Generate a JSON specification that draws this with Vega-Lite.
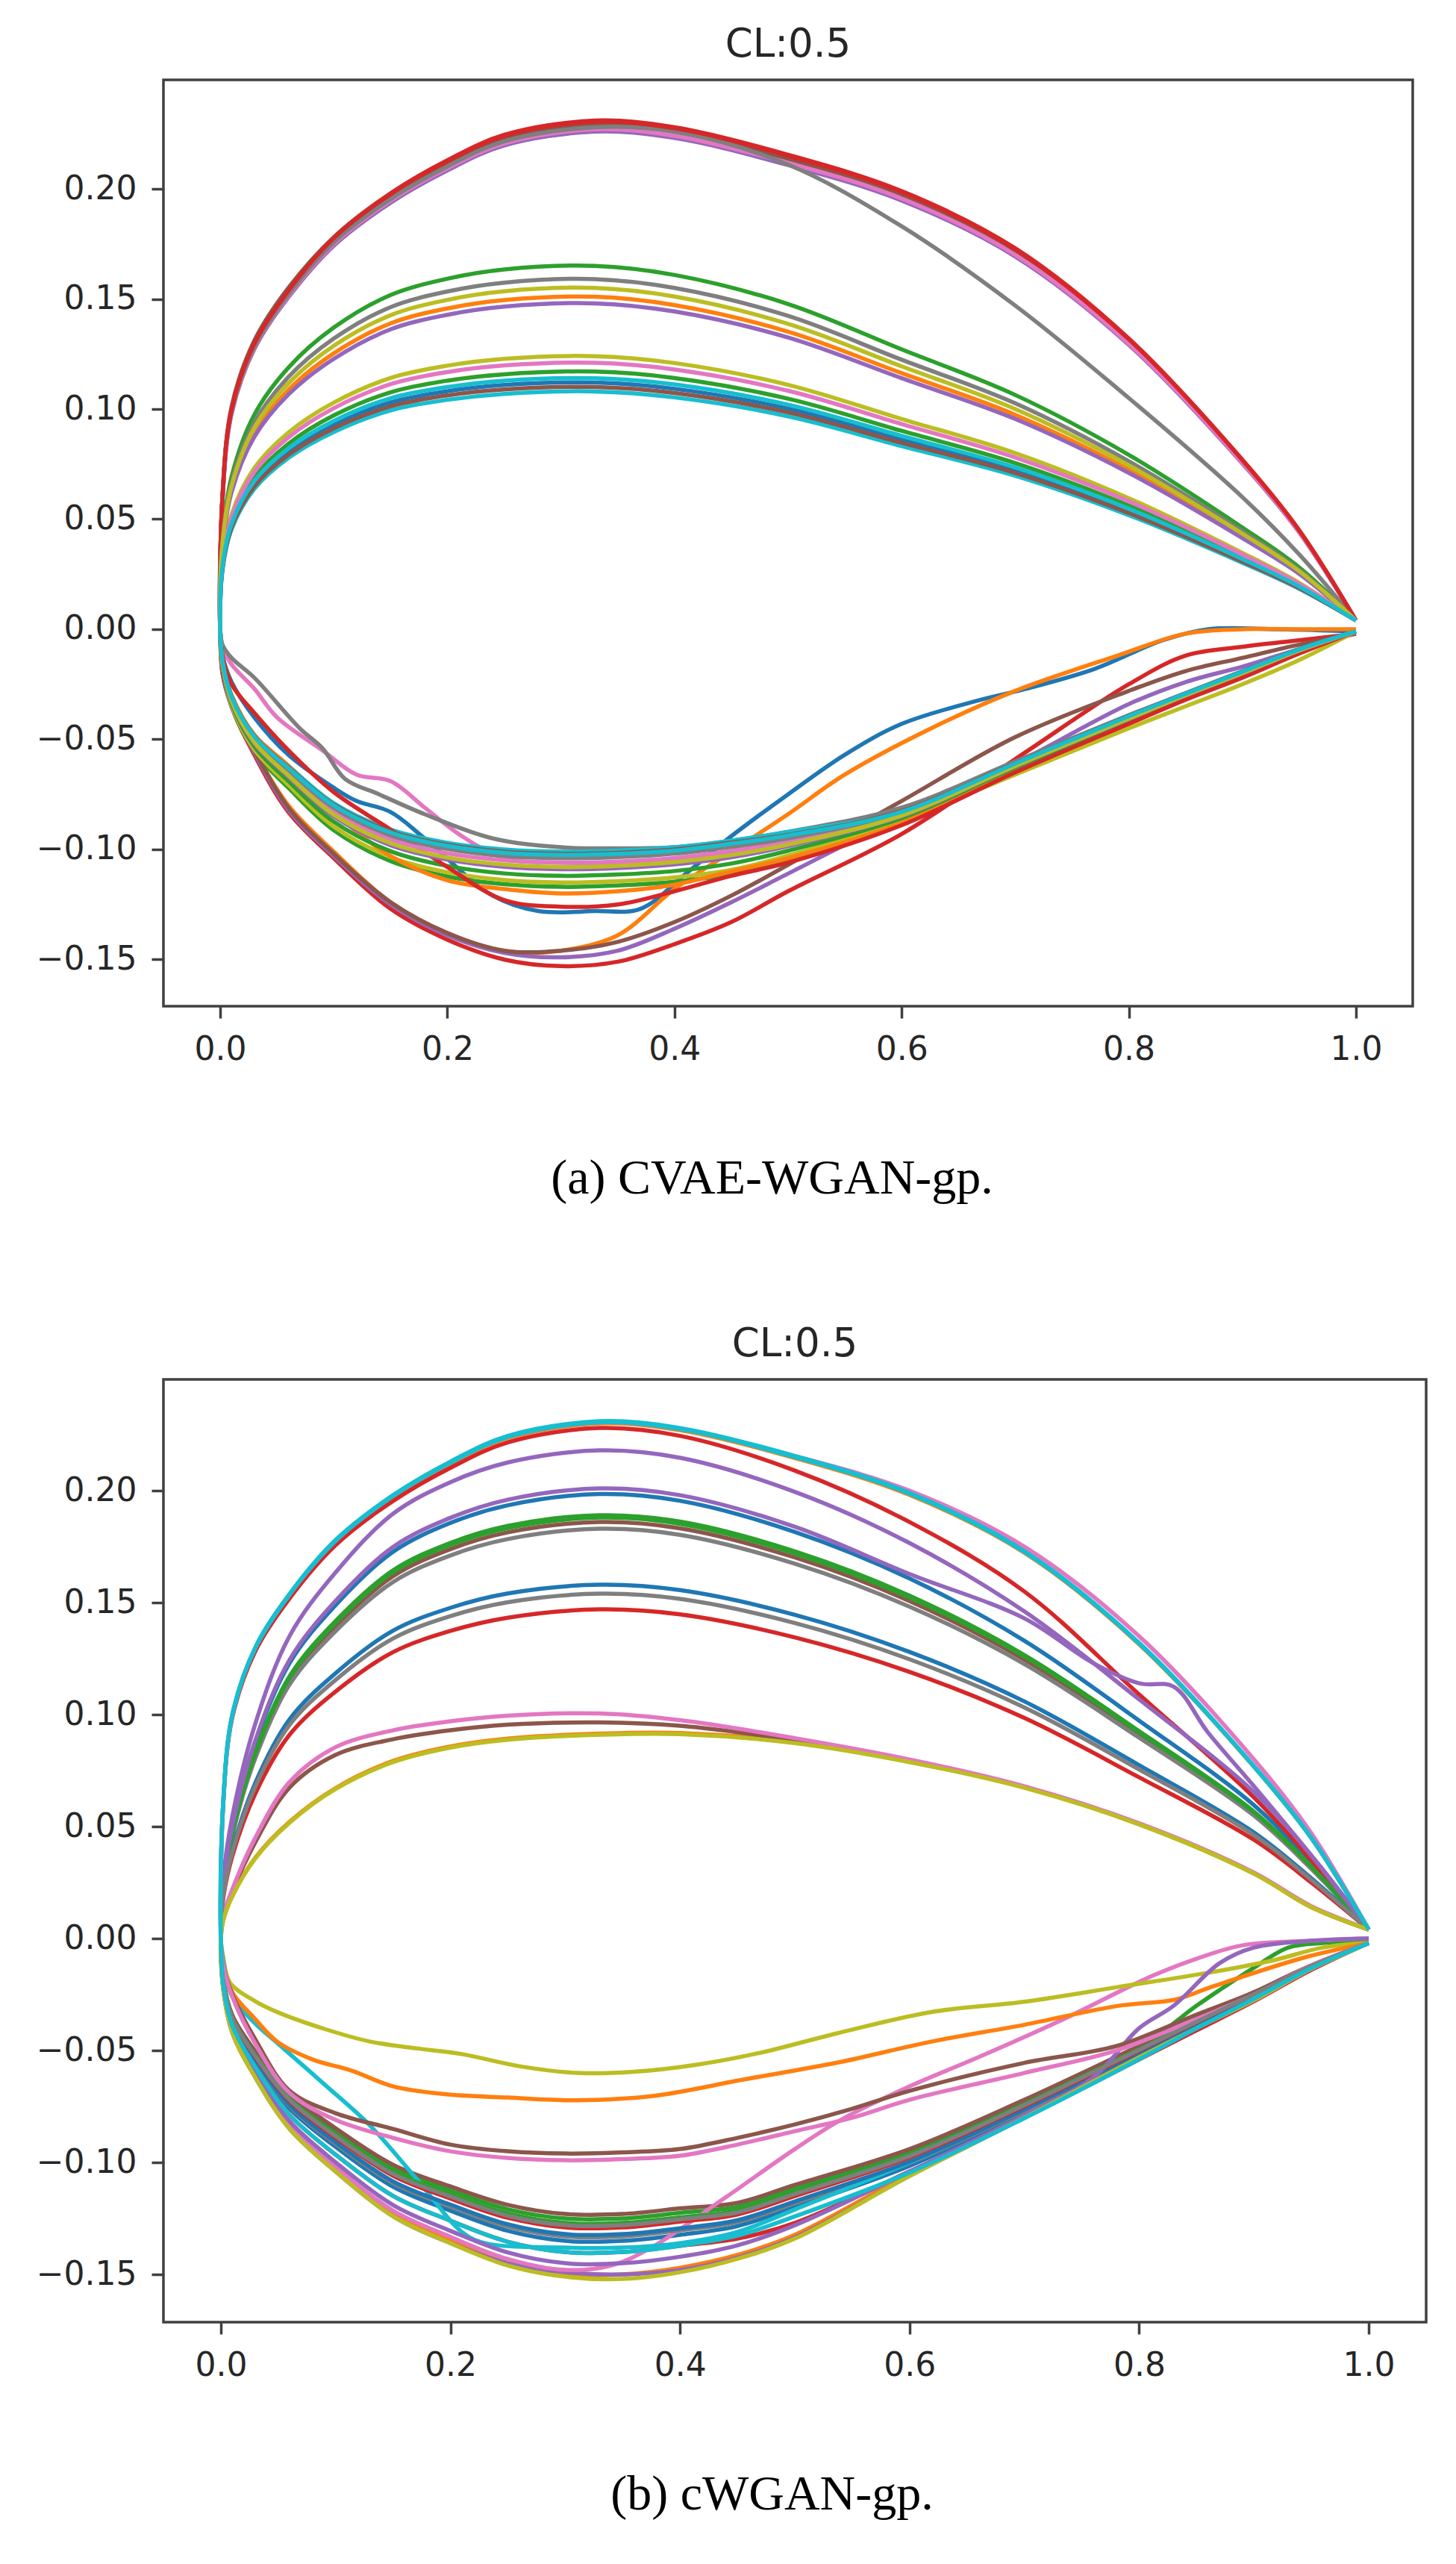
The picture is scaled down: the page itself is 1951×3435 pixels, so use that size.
{
"$schema":"https://vega.github.io/schema/vega-lite/v6.json",
"background":"white",
"padding":{"left":46,"right":43,"top":32,"bottom":5},
"config":{
"view":{"stroke":"#404040","strokeWidth":3.5},
"axis":{"domain":false,"grid":false,"tickColor":"#404040","tickWidth":3.5,"tickSize":16,"labelFont":"DejaVu Sans","labelFontSize":44,"labelColor":"#262626","labelPadding":20},
"title":{"font":"DejaVu Sans","fontSize":53,"fontWeight":"normal","color":"#262626","offset":20},
"concat":{"spacing":160},
"line":{"strokeWidth":5.5,"interpolate":"catmull-rom"}
},
"datasets":{
"a":[
{"c":0,"x":1,"y":0.004},{"c":0,"x":0.95,"y":0.0446},{"c":0,"x":0.9,"y":0.0763},{"c":0,"x":0.8,"y":0.1309},{"c":0,"x":0.7,"y":0.1715},{"c":0,"x":0.6,"y":0.1973},{"c":0,"x":0.5,"y":0.2136},{"c":0,"x":0.4,"y":0.226},{"c":0,"x":0.33,"y":0.229},{"c":0,"x":0.25,"y":0.2225},{"c":0,"x":0.2,"y":0.2111},{"c":0,"x":0.15,"y":0.1963},{"c":0,"x":0.1,"y":0.1765},{"c":0,"x":0.06,"y":0.1527},{"c":0,"x":0.03,"y":0.1289},{"c":0,"x":0.01,"y":0.0991},{"c":0,"x":0.002,"y":0.0595},{"c":0,"x":0,"y":0},
{"c":0,"x":0.002,"y":-0.012},{"c":0,"x":0.01,"y":-0.024},{"c":0,"x":0.03,"y":-0.04},{"c":0,"x":0.06,"y":-0.057},{"c":0,"x":0.1,"y":-0.072},{"c":0,"x":0.12,"y":-0.078},{"c":0,"x":0.15,"y":-0.083},{"c":0,"x":0.18,"y":-0.095},{"c":0,"x":0.24,"y":-0.121},{"c":0,"x":0.28,"y":-0.128},{"c":0,"x":0.33,"y":-0.128},{"c":0,"x":0.37,"y":-0.127},{"c":0,"x":0.41,"y":-0.111},{"c":0,"x":0.45,"y":-0.094},{"c":0,"x":0.5,"y":-0.075},{"c":0,"x":0.55,"y":-0.057},{"c":0,"x":0.6,"y":-0.043},{"c":0,"x":0.67,"y":-0.032},{"c":0,"x":0.71,"y":-0.027},{"c":0,"x":0.77,"y":-0.018},{"c":0,"x":0.83,"y":-0.005},{"c":0,"x":0.87,"y":0},{"c":0,"x":0.93,"y":0},{"c":0,"x":1,"y":-0.001},
{"c":1,"x":1,"y":0.004},{"c":1,"x":0.95,"y":0.0447},{"c":1,"x":0.9,"y":0.0765},{"c":1,"x":0.8,"y":0.1311},{"c":1,"x":0.7,"y":0.1719},{"c":1,"x":0.6,"y":0.1977},{"c":1,"x":0.5,"y":0.2141},{"c":1,"x":0.4,"y":0.2265},{"c":1,"x":0.33,"y":0.2295},{"c":1,"x":0.25,"y":0.223},{"c":1,"x":0.2,"y":0.2116},{"c":1,"x":0.15,"y":0.1967},{"c":1,"x":0.1,"y":0.1768},{"c":1,"x":0.06,"y":0.153},{"c":1,"x":0.03,"y":0.1292},{"c":1,"x":0.01,"y":0.0994},{"c":1,"x":0.002,"y":0.0596},{"c":1,"x":0,"y":0},
{"c":1,"x":0.002,"y":-0.018},{"c":1,"x":0.01,"y":-0.033},{"c":1,"x":0.03,"y":-0.055},{"c":1,"x":0.06,"y":-0.08},{"c":1,"x":0.1,"y":-0.101},{"c":1,"x":0.15,"y":-0.124},{"c":1,"x":0.2,"y":-0.138},{"c":1,"x":0.25,"y":-0.146},{"c":1,"x":0.3,"y":-0.146},{"c":1,"x":0.35,"y":-0.139},{"c":1,"x":0.4,"y":-0.118},{"c":1,"x":0.45,"y":-0.101},{"c":1,"x":0.5,"y":-0.084},{"c":1,"x":0.55,"y":-0.066},{"c":1,"x":0.63,"y":-0.044},{"c":1,"x":0.7,"y":-0.028},{"c":1,"x":0.79,"y":-0.012},{"c":1,"x":0.85,"y":-0.002},{"c":1,"x":0.9,"y":0},{"c":1,"x":0.95,"y":0},{"c":1,"x":1,"y":0},
{"c":2,"x":1,"y":0.004},{"c":2,"x":0.95,"y":0.0281},{"c":2,"x":0.9,"y":0.0462},{"c":2,"x":0.8,"y":0.0792},{"c":2,"x":0.7,"y":0.1064},{"c":2,"x":0.6,"y":0.1271},{"c":2,"x":0.5,"y":0.1477},{"c":2,"x":0.4,"y":0.1609},{"c":2,"x":0.33,"y":0.165},{"c":2,"x":0.25,"y":0.1634},{"c":2,"x":0.2,"y":0.1592},{"c":2,"x":0.15,"y":0.1518},{"c":2,"x":0.1,"y":0.137},{"c":2,"x":0.06,"y":0.1188},{"c":2,"x":0.03,"y":0.0974},{"c":2,"x":0.01,"y":0.0693},{"c":2,"x":0.002,"y":0.0413},{"c":2,"x":0,"y":0},
{"c":2,"x":0.002,"y":-0.0164},{"c":2,"x":0.01,"y":-0.0351},{"c":2,"x":0.03,"y":-0.0556},{"c":2,"x":0.06,"y":-0.072},{"c":2,"x":0.1,"y":-0.0913},{"c":2,"x":0.15,"y":-0.1053},{"c":2,"x":0.2,"y":-0.1123},{"c":2,"x":0.25,"y":-0.1158},{"c":2,"x":0.3,"y":-0.117},{"c":2,"x":0.35,"y":-0.1164},{"c":2,"x":0.4,"y":-0.1147},{"c":2,"x":0.45,"y":-0.1112},{"c":2,"x":0.5,"y":-0.1042},{"c":2,"x":0.6,"y":-0.0874},{"c":2,"x":0.7,"y":-0.0639},{"c":2,"x":0.8,"y":-0.0424},{"c":2,"x":0.85,"y":-0.031},{"c":2,"x":0.9,"y":-0.021},{"c":2,"x":0.95,"y":-0.0104},{"c":2,"x":1,"y":-0.001},
{"c":3,"x":1,"y":0.004},{"c":3,"x":0.95,"y":0.045},{"c":3,"x":0.9,"y":0.077},{"c":3,"x":0.8,"y":0.132},{"c":3,"x":0.7,"y":0.173},{"c":3,"x":0.6,"y":0.199},{"c":3,"x":0.5,"y":0.2155},{"c":3,"x":0.4,"y":0.228},{"c":3,"x":0.33,"y":0.231},{"c":3,"x":0.25,"y":0.2245},{"c":3,"x":0.2,"y":0.213},{"c":3,"x":0.15,"y":0.198},{"c":3,"x":0.1,"y":0.178},{"c":3,"x":0.06,"y":0.154},{"c":3,"x":0.03,"y":0.13},{"c":3,"x":0.01,"y":0.1},{"c":3,"x":0.002,"y":0.06},{"c":3,"x":0,"y":0},
{"c":3,"x":0.002,"y":-0.02},{"c":3,"x":0.01,"y":-0.035},{"c":3,"x":0.03,"y":-0.057},{"c":3,"x":0.06,"y":-0.083},{"c":3,"x":0.1,"y":-0.104},{"c":3,"x":0.15,"y":-0.127},{"c":3,"x":0.2,"y":-0.141},{"c":3,"x":0.25,"y":-0.15},{"c":3,"x":0.3,"y":-0.153},{"c":3,"x":0.35,"y":-0.151},{"c":3,"x":0.4,"y":-0.143},{"c":3,"x":0.45,"y":-0.133},{"c":3,"x":0.5,"y":-0.119},{"c":3,"x":0.6,"y":-0.093},{"c":3,"x":0.7,"y":-0.059},{"c":3,"x":0.8,"y":-0.025},{"c":3,"x":0.85,"y":-0.012},{"c":3,"x":0.9,"y":-0.008},{"c":3,"x":0.95,"y":-0.005},{"c":3,"x":1,"y":-0.002},
{"c":4,"x":1,"y":0.004},{"c":4,"x":0.95,"y":0.044},{"c":4,"x":0.9,"y":0.0753},{"c":4,"x":0.8,"y":0.1292},{"c":4,"x":0.7,"y":0.1693},{"c":4,"x":0.6,"y":0.1947},{"c":4,"x":0.5,"y":0.2108},{"c":4,"x":0.4,"y":0.2231},{"c":4,"x":0.33,"y":0.226},{"c":4,"x":0.25,"y":0.2197},{"c":4,"x":0.2,"y":0.2084},{"c":4,"x":0.15,"y":0.1937},{"c":4,"x":0.1,"y":0.1742},{"c":4,"x":0.06,"y":0.1507},{"c":4,"x":0.03,"y":0.1272},{"c":4,"x":0.01,"y":0.0978},{"c":4,"x":0.002,"y":0.0587},{"c":4,"x":0,"y":0},
{"c":4,"x":0.002,"y":-0.02},{"c":4,"x":0.01,"y":-0.035},{"c":4,"x":0.03,"y":-0.056},{"c":4,"x":0.06,"y":-0.082},{"c":4,"x":0.1,"y":-0.103},{"c":4,"x":0.15,"y":-0.125},{"c":4,"x":0.2,"y":-0.139},{"c":4,"x":0.25,"y":-0.147},{"c":4,"x":0.3,"y":-0.149},{"c":4,"x":0.35,"y":-0.146},{"c":4,"x":0.4,"y":-0.136},{"c":4,"x":0.45,"y":-0.124},{"c":4,"x":0.5,"y":-0.111},{"c":4,"x":0.6,"y":-0.085},{"c":4,"x":0.7,"y":-0.061},{"c":4,"x":0.8,"y":-0.034},{"c":4,"x":0.85,"y":-0.024},{"c":4,"x":0.9,"y":-0.017},{"c":4,"x":0.95,"y":-0.009},{"c":4,"x":1,"y":-0.002},
{"c":5,"x":1,"y":0.004},{"c":5,"x":0.95,"y":0.0446},{"c":5,"x":0.9,"y":0.0763},{"c":5,"x":0.8,"y":0.1309},{"c":5,"x":0.7,"y":0.1715},{"c":5,"x":0.6,"y":0.1973},{"c":5,"x":0.5,"y":0.2136},{"c":5,"x":0.4,"y":0.226},{"c":5,"x":0.33,"y":0.229},{"c":5,"x":0.25,"y":0.2225},{"c":5,"x":0.2,"y":0.2115},{"c":5,"x":0.15,"y":0.1975},{"c":5,"x":0.1,"y":0.178},{"c":5,"x":0.06,"y":0.155},{"c":5,"x":0.03,"y":0.131},{"c":5,"x":0.01,"y":0.101},{"c":5,"x":0.002,"y":0.061},{"c":5,"x":0,"y":0},
{"c":5,"x":0.002,"y":-0.019},{"c":5,"x":0.01,"y":-0.034},{"c":5,"x":0.03,"y":-0.055},{"c":5,"x":0.06,"y":-0.081},{"c":5,"x":0.1,"y":-0.102},{"c":5,"x":0.15,"y":-0.124},{"c":5,"x":0.2,"y":-0.138},{"c":5,"x":0.25,"y":-0.146},{"c":5,"x":0.3,"y":-0.146},{"c":5,"x":0.35,"y":-0.142},{"c":5,"x":0.4,"y":-0.133},{"c":5,"x":0.45,"y":-0.121},{"c":5,"x":0.5,"y":-0.107},{"c":5,"x":0.6,"y":-0.078},{"c":5,"x":0.7,"y":-0.049},{"c":5,"x":0.8,"y":-0.028},{"c":5,"x":0.85,"y":-0.019},{"c":5,"x":0.9,"y":-0.013},{"c":5,"x":0.95,"y":-0.007},{"c":5,"x":1,"y":-0.002},
{"c":6,"x":1,"y":0.004},{"c":6,"x":0.95,"y":0.0442},{"c":6,"x":0.9,"y":0.0757},{"c":6,"x":0.8,"y":0.1297},{"c":6,"x":0.7,"y":0.17},{"c":6,"x":0.6,"y":0.1956},{"c":6,"x":0.5,"y":0.2118},{"c":6,"x":0.4,"y":0.2241},{"c":6,"x":0.33,"y":0.227},{"c":6,"x":0.25,"y":0.2206},{"c":6,"x":0.2,"y":0.2093},{"c":6,"x":0.15,"y":0.1946},{"c":6,"x":0.1,"y":0.1749},{"c":6,"x":0.06,"y":0.1513},{"c":6,"x":0.03,"y":0.1278},{"c":6,"x":0.01,"y":0.0983},{"c":6,"x":0.002,"y":0.0587},{"c":6,"x":0,"y":0},
{"c":6,"x":0.002,"y":-0.008},{"c":6,"x":0.01,"y":-0.016},{"c":6,"x":0.03,"y":-0.027},{"c":6,"x":0.05,"y":-0.04},{"c":6,"x":0.09,"y":-0.055},{"c":6,"x":0.12,"y":-0.066},{"c":6,"x":0.15,"y":-0.069},{"c":6,"x":0.18,"y":-0.081},{"c":6,"x":0.21,"y":-0.093},{"c":6,"x":0.25,"y":-0.104},{"c":6,"x":0.3,"y":-0.106},{"c":6,"x":0.35,"y":-0.106},{"c":6,"x":0.4,"y":-0.105},{"c":6,"x":0.45,"y":-0.101},{"c":6,"x":0.5,"y":-0.096},{"c":6,"x":0.6,"y":-0.084},{"c":6,"x":0.7,"y":-0.062},{"c":6,"x":0.8,"y":-0.04},{"c":6,"x":0.85,"y":-0.03},{"c":6,"x":0.9,"y":-0.02},{"c":6,"x":0.95,"y":-0.01},{"c":6,"x":1,"y":-0.001},
{"c":7,"x":1,"y":0.004},{"c":7,"x":0.95,"y":0.034},{"c":7,"x":0.9,"y":0.06},{"c":7,"x":0.8,"y":0.105},{"c":7,"x":0.7,"y":0.147},{"c":7,"x":0.6,"y":0.183},{"c":7,"x":0.5,"y":0.211},{"c":7,"x":0.4,"y":0.226},{"c":7,"x":0.33,"y":0.228},{"c":7,"x":0.25,"y":0.2216},{"c":7,"x":0.2,"y":0.2102},{"c":7,"x":0.15,"y":0.1954},{"c":7,"x":0.1,"y":0.1757},{"c":7,"x":0.06,"y":0.152},{"c":7,"x":0.03,"y":0.1283},{"c":7,"x":0.01,"y":0.0987},{"c":7,"x":0.002,"y":0.0592},{"c":7,"x":0,"y":0},
{"c":7,"x":0.002,"y":-0.007},{"c":7,"x":0.01,"y":-0.013},{"c":7,"x":0.03,"y":-0.022},{"c":7,"x":0.07,"y":-0.045},{"c":7,"x":0.09,"y":-0.054},{"c":7,"x":0.11,"y":-0.068},{"c":7,"x":0.14,"y":-0.075},{"c":7,"x":0.18,"y":-0.084},{"c":7,"x":0.24,"y":-0.095},{"c":7,"x":0.3,"y":-0.099},{"c":7,"x":0.35,"y":-0.0995},{"c":7,"x":0.4,"y":-0.099},{"c":7,"x":0.45,"y":-0.096},{"c":7,"x":0.5,"y":-0.092},{"c":7,"x":0.6,"y":-0.081},{"c":7,"x":0.7,"y":-0.06},{"c":7,"x":0.8,"y":-0.039},{"c":7,"x":0.85,"y":-0.029},{"c":7,"x":0.9,"y":-0.019},{"c":7,"x":0.95,"y":-0.009},{"c":7,"x":1,"y":-0.001},
{"c":8,"x":1,"y":0.004},{"c":8,"x":0.95,"y":0.0211},{"c":8,"x":0.9,"y":0.0347},{"c":8,"x":0.8,"y":0.0595},{"c":8,"x":0.7,"y":0.08},{"c":8,"x":0.6,"y":0.0955},{"c":8,"x":0.5,"y":0.111},{"c":8,"x":0.4,"y":0.1209},{"c":8,"x":0.33,"y":0.124},{"c":8,"x":0.25,"y":0.1228},{"c":8,"x":0.2,"y":0.1197},{"c":8,"x":0.15,"y":0.1141},{"c":8,"x":0.1,"y":0.1029},{"c":8,"x":0.06,"y":0.0893},{"c":8,"x":0.03,"y":0.0732},{"c":8,"x":0.01,"y":0.0521},{"c":8,"x":0.002,"y":0.031},{"c":8,"x":0,"y":0},
{"c":8,"x":0.002,"y":-0.016},{"c":8,"x":0.01,"y":-0.0345},{"c":8,"x":0.03,"y":-0.0546},{"c":8,"x":0.06,"y":-0.0707},{"c":8,"x":0.1,"y":-0.0897},{"c":8,"x":0.15,"y":-0.1035},{"c":8,"x":0.2,"y":-0.1104},{"c":8,"x":0.25,"y":-0.1139},{"c":8,"x":0.3,"y":-0.115},{"c":8,"x":0.35,"y":-0.1144},{"c":8,"x":0.4,"y":-0.1127},{"c":8,"x":0.45,"y":-0.1093},{"c":8,"x":0.5,"y":-0.1028},{"c":8,"x":0.6,"y":-0.0868},{"c":8,"x":0.7,"y":-0.066},{"c":8,"x":0.8,"y":-0.045},{"c":8,"x":0.85,"y":-0.035},{"c":8,"x":0.9,"y":-0.025},{"c":8,"x":0.95,"y":-0.014},{"c":8,"x":1,"y":-0.001},
{"c":9,"x":1,"y":0.004},{"c":9,"x":0.95,"y":0.0184},{"c":9,"x":0.9,"y":0.0302},{"c":9,"x":0.8,"y":0.0518},{"c":9,"x":0.7,"y":0.0697},{"c":9,"x":0.6,"y":0.0832},{"c":9,"x":0.5,"y":0.0967},{"c":9,"x":0.4,"y":0.1053},{"c":9,"x":0.33,"y":0.108},{"c":9,"x":0.25,"y":0.1069},{"c":9,"x":0.2,"y":0.1042},{"c":9,"x":0.15,"y":0.0994},{"c":9,"x":0.1,"y":0.0896},{"c":9,"x":0.06,"y":0.0778},{"c":9,"x":0.03,"y":0.0637},{"c":9,"x":0.01,"y":0.0454},{"c":9,"x":0.002,"y":0.027},{"c":9,"x":0,"y":0},
{"c":9,"x":0.002,"y":-0.014},{"c":9,"x":0.01,"y":-0.03},{"c":9,"x":0.03,"y":-0.048},{"c":9,"x":0.06,"y":-0.062},{"c":9,"x":0.1,"y":-0.079},{"c":9,"x":0.15,"y":-0.091},{"c":9,"x":0.2,"y":-0.097},{"c":9,"x":0.25,"y":-0.1},{"c":9,"x":0.3,"y":-0.101},{"c":9,"x":0.35,"y":-0.1005},{"c":9,"x":0.4,"y":-0.099},{"c":9,"x":0.45,"y":-0.096},{"c":9,"x":0.5,"y":-0.092},{"c":9,"x":0.6,"y":-0.083},{"c":9,"x":0.7,"y":-0.0615},{"c":9,"x":0.8,"y":-0.04},{"c":9,"x":0.85,"y":-0.03},{"c":9,"x":0.9,"y":-0.02},{"c":9,"x":0.95,"y":-0.01},{"c":9,"x":1,"y":-0.001},
{"c":10,"x":1,"y":0.004},{"c":10,"x":0.95,"y":0.019},{"c":10,"x":0.9,"y":0.0314},{"c":10,"x":0.8,"y":0.0538},{"c":10,"x":0.7,"y":0.0722},{"c":10,"x":0.6,"y":0.0862},{"c":10,"x":0.5,"y":0.1002},{"c":10,"x":0.4,"y":0.1092},{"c":10,"x":0.33,"y":0.112},{"c":10,"x":0.25,"y":0.1109},{"c":10,"x":0.2,"y":0.1081},{"c":10,"x":0.15,"y":0.103},{"c":10,"x":0.1,"y":0.093},{"c":10,"x":0.06,"y":0.0806},{"c":10,"x":0.03,"y":0.0661},{"c":10,"x":0.01,"y":0.047},{"c":10,"x":0.002,"y":0.028},{"c":10,"x":0,"y":0},
{"c":10,"x":0.002,"y":-0.0144},{"c":10,"x":0.01,"y":-0.0309},{"c":10,"x":0.03,"y":-0.0489},{"c":10,"x":0.06,"y":-0.0633},{"c":10,"x":0.1,"y":-0.0803},{"c":10,"x":0.15,"y":-0.0927},{"c":10,"x":0.2,"y":-0.0989},{"c":10,"x":0.25,"y":-0.102},{"c":10,"x":0.3,"y":-0.103},{"c":10,"x":0.35,"y":-0.1025},{"c":10,"x":0.4,"y":-0.1009},{"c":10,"x":0.45,"y":-0.0979},{"c":10,"x":0.5,"y":-0.0942},{"c":10,"x":0.6,"y":-0.083},{"c":10,"x":0.7,"y":-0.0611},{"c":10,"x":0.8,"y":-0.0396},{"c":10,"x":0.85,"y":-0.0294},{"c":10,"x":0.9,"y":-0.0194},{"c":10,"x":0.95,"y":-0.0092},{"c":10,"x":1,"y":-0.001},
{"c":11,"x":1,"y":0.004},{"c":11,"x":0.95,"y":0.0257},{"c":11,"x":0.9,"y":0.0423},{"c":11,"x":0.8,"y":0.0725},{"c":11,"x":0.7,"y":0.0974},{"c":11,"x":0.6,"y":0.1163},{"c":11,"x":0.5,"y":0.1351},{"c":11,"x":0.4,"y":0.1472},{"c":11,"x":0.33,"y":0.151},{"c":11,"x":0.25,"y":0.1495},{"c":11,"x":0.2,"y":0.1457},{"c":11,"x":0.15,"y":0.1389},{"c":11,"x":0.1,"y":0.1253},{"c":11,"x":0.06,"y":0.1087},{"c":11,"x":0.03,"y":0.0891},{"c":11,"x":0.01,"y":0.0634},{"c":11,"x":0.002,"y":0.0378},{"c":11,"x":0,"y":0},
{"c":11,"x":0.002,"y":-0.017},{"c":11,"x":0.01,"y":-0.03},{"c":11,"x":0.03,"y":-0.048},{"c":11,"x":0.06,"y":-0.062},{"c":11,"x":0.1,"y":-0.083},{"c":11,"x":0.15,"y":-0.103},{"c":11,"x":0.2,"y":-0.114},{"c":11,"x":0.25,"y":-0.118},{"c":11,"x":0.3,"y":-0.12},{"c":11,"x":0.35,"y":-0.119},{"c":11,"x":0.4,"y":-0.116},{"c":11,"x":0.45,"y":-0.11},{"c":11,"x":0.5,"y":-0.104},{"c":11,"x":0.6,"y":-0.088},{"c":11,"x":0.7,"y":-0.064},{"c":11,"x":0.8,"y":-0.043},{"c":11,"x":0.85,"y":-0.031},{"c":11,"x":0.9,"y":-0.021},{"c":11,"x":0.95,"y":-0.011},{"c":11,"x":1,"y":-0.001},
{"c":12,"x":1,"y":0.004},{"c":12,"x":0.95,"y":0.0199},{"c":12,"x":0.9,"y":0.0328},{"c":12,"x":0.8,"y":0.0562},{"c":12,"x":0.7,"y":0.0755},{"c":12,"x":0.6,"y":0.0901},{"c":12,"x":0.5,"y":0.1047},{"c":12,"x":0.4,"y":0.1141},{"c":12,"x":0.33,"y":0.117},{"c":12,"x":0.25,"y":0.1158},{"c":12,"x":0.2,"y":0.1129},{"c":12,"x":0.15,"y":0.1076},{"c":12,"x":0.1,"y":0.0971},{"c":12,"x":0.06,"y":0.0842},{"c":12,"x":0.03,"y":0.069},{"c":12,"x":0.01,"y":0.0491},{"c":12,"x":0.002,"y":0.0293},{"c":12,"x":0,"y":0},
{"c":12,"x":0.002,"y":-0.0157},{"c":12,"x":0.01,"y":-0.0336},{"c":12,"x":0.03,"y":-0.0532},{"c":12,"x":0.06,"y":-0.0689},{"c":12,"x":0.1,"y":-0.0874},{"c":12,"x":0.15,"y":-0.1008},{"c":12,"x":0.2,"y":-0.1075},{"c":12,"x":0.25,"y":-0.1109},{"c":12,"x":0.3,"y":-0.112},{"c":12,"x":0.35,"y":-0.1114},{"c":12,"x":0.4,"y":-0.1098},{"c":12,"x":0.45,"y":-0.1064},{"c":12,"x":0.5,"y":-0.1006},{"c":12,"x":0.6,"y":-0.0858},{"c":12,"x":0.7,"y":-0.0629},{"c":12,"x":0.8,"y":-0.0414},{"c":12,"x":0.85,"y":-0.0304},{"c":12,"x":0.9,"y":-0.0204},{"c":12,"x":0.95,"y":-0.01},{"c":12,"x":1,"y":-0.001},
{"c":13,"x":1,"y":0.004},{"c":13,"x":0.95,"y":0.0449},{"c":13,"x":0.9,"y":0.0768},{"c":13,"x":0.8,"y":0.1317},{"c":13,"x":0.7,"y":0.1726},{"c":13,"x":0.6,"y":0.1986},{"c":13,"x":0.5,"y":0.215},{"c":13,"x":0.4,"y":0.2275},{"c":13,"x":0.33,"y":0.2305},{"c":13,"x":0.25,"y":0.224},{"c":13,"x":0.2,"y":0.2125},{"c":13,"x":0.15,"y":0.1976},{"c":13,"x":0.1,"y":0.1776},{"c":13,"x":0.06,"y":0.1537},{"c":13,"x":0.03,"y":0.1297},{"c":13,"x":0.01,"y":0.0998},{"c":13,"x":0.002,"y":0.0599},{"c":13,"x":0,"y":0},
{"c":13,"x":0.002,"y":-0.012},{"c":13,"x":0.01,"y":-0.025},{"c":13,"x":0.03,"y":-0.038},{"c":13,"x":0.06,"y":-0.055},{"c":13,"x":0.1,"y":-0.074},{"c":13,"x":0.15,"y":-0.091},{"c":13,"x":0.2,"y":-0.108},{"c":13,"x":0.25,"y":-0.123},{"c":13,"x":0.3,"y":-0.126},{"c":13,"x":0.35,"y":-0.125},{"c":13,"x":0.4,"y":-0.119},{"c":13,"x":0.45,"y":-0.112},{"c":13,"x":0.5,"y":-0.106},{"c":13,"x":0.6,"y":-0.089},{"c":13,"x":0.7,"y":-0.065},{"c":13,"x":0.8,"y":-0.043},{"c":13,"x":0.85,"y":-0.032},{"c":13,"x":0.9,"y":-0.022},{"c":13,"x":0.95,"y":-0.011},{"c":13,"x":1,"y":-0.001},
{"c":14,"x":1,"y":0.004},{"c":14,"x":0.95,"y":0.0252},{"c":14,"x":0.9,"y":0.0414},{"c":14,"x":0.8,"y":0.071},{"c":14,"x":0.7,"y":0.0955},{"c":14,"x":0.6,"y":0.114},{"c":14,"x":0.5,"y":0.1325},{"c":14,"x":0.4,"y":0.1443},{"c":14,"x":0.33,"y":0.148},{"c":14,"x":0.25,"y":0.1465},{"c":14,"x":0.2,"y":0.1428},{"c":14,"x":0.15,"y":0.1362},{"c":14,"x":0.1,"y":0.1228},{"c":14,"x":0.06,"y":0.1066},{"c":14,"x":0.03,"y":0.0873},{"c":14,"x":0.01,"y":0.0622},{"c":14,"x":0.002,"y":0.037},{"c":14,"x":0,"y":0},
{"c":14,"x":0.002,"y":-0.0153},{"c":14,"x":0.01,"y":-0.0327},{"c":14,"x":0.03,"y":-0.0518},{"c":14,"x":0.06,"y":-0.067},{"c":14,"x":0.1,"y":-0.085},{"c":14,"x":0.15,"y":-0.0981},{"c":14,"x":0.2,"y":-0.1046},{"c":14,"x":0.25,"y":-0.1079},{"c":14,"x":0.3,"y":-0.109},{"c":14,"x":0.35,"y":-0.1085},{"c":14,"x":0.4,"y":-0.1068},{"c":14,"x":0.45,"y":-0.1036},{"c":14,"x":0.5,"y":-0.0985},{"c":14,"x":0.6,"y":-0.0849},{"c":14,"x":0.7,"y":-0.0623},{"c":14,"x":0.8,"y":-0.0408},{"c":14,"x":0.85,"y":-0.0301},{"c":14,"x":0.9,"y":-0.0201},{"c":14,"x":0.95,"y":-0.0097},{"c":14,"x":1,"y":-0.001},
{"c":15,"x":1,"y":0.004},{"c":15,"x":0.95,"y":0.0187},{"c":15,"x":0.9,"y":0.0308},{"c":15,"x":0.8,"y":0.0528},{"c":15,"x":0.7,"y":0.071},{"c":15,"x":0.6,"y":0.0847},{"c":15,"x":0.5,"y":0.0985},{"c":15,"x":0.4,"y":0.1073},{"c":15,"x":0.33,"y":0.11},{"c":15,"x":0.25,"y":0.1089},{"c":15,"x":0.2,"y":0.1062},{"c":15,"x":0.15,"y":0.1012},{"c":15,"x":0.1,"y":0.0913},{"c":15,"x":0.06,"y":0.0792},{"c":15,"x":0.03,"y":0.0649},{"c":15,"x":0.01,"y":0.0462},{"c":15,"x":0.002,"y":0.0275},{"c":15,"x":0,"y":0},
{"c":15,"x":0.002,"y":-0.0143},{"c":15,"x":0.01,"y":-0.0306},{"c":15,"x":0.03,"y":-0.0485},{"c":15,"x":0.06,"y":-0.0627},{"c":15,"x":0.1,"y":-0.0796},{"c":15,"x":0.15,"y":-0.0918},{"c":15,"x":0.2,"y":-0.0979},{"c":15,"x":0.25,"y":-0.101},{"c":15,"x":0.3,"y":-0.102},{"c":15,"x":0.35,"y":-0.1015},{"c":15,"x":0.4,"y":-0.1},{"c":15,"x":0.45,"y":-0.0969},{"c":15,"x":0.5,"y":-0.0934},{"c":15,"x":0.6,"y":-0.0826},{"c":15,"x":0.7,"y":-0.0609},{"c":15,"x":0.8,"y":-0.0394},{"c":15,"x":0.85,"y":-0.0292},{"c":15,"x":0.9,"y":-0.0192},{"c":15,"x":0.95,"y":-0.0092},{"c":15,"x":1,"y":-0.001},
{"c":16,"x":1,"y":0.004},{"c":16,"x":0.95,"y":0.0206},{"c":16,"x":0.9,"y":0.0339},{"c":16,"x":0.8,"y":0.0581},{"c":16,"x":0.7,"y":0.078},{"c":16,"x":0.6,"y":0.0932},{"c":16,"x":0.5,"y":0.1083},{"c":16,"x":0.4,"y":0.118},{"c":16,"x":0.33,"y":0.121},{"c":16,"x":0.25,"y":0.1198},{"c":16,"x":0.2,"y":0.1168},{"c":16,"x":0.15,"y":0.1113},{"c":16,"x":0.1,"y":0.1004},{"c":16,"x":0.06,"y":0.0871},{"c":16,"x":0.03,"y":0.0714},{"c":16,"x":0.01,"y":0.0508},{"c":16,"x":0.002,"y":0.0303},{"c":16,"x":0,"y":0},
{"c":16,"x":0.002,"y":-0.0148},{"c":16,"x":0.01,"y":-0.0318},{"c":16,"x":0.03,"y":-0.0504},{"c":16,"x":0.06,"y":-0.0652},{"c":16,"x":0.1,"y":-0.0827},{"c":16,"x":0.15,"y":-0.0954},{"c":16,"x":0.2,"y":-0.1018},{"c":16,"x":0.25,"y":-0.1049},{"c":16,"x":0.3,"y":-0.106},{"c":16,"x":0.35,"y":-0.1055},{"c":16,"x":0.4,"y":-0.1039},{"c":16,"x":0.45,"y":-0.1007},{"c":16,"x":0.5,"y":-0.0963},{"c":16,"x":0.6,"y":-0.0839},{"c":16,"x":0.7,"y":-0.0617},{"c":16,"x":0.8,"y":-0.0402},{"c":16,"x":0.85,"y":-0.0297},{"c":16,"x":0.9,"y":-0.0197},{"c":16,"x":0.95,"y":-0.0095},{"c":16,"x":1,"y":-0.001},
{"c":17,"x":1,"y":0.004},{"c":17,"x":0.95,"y":0.027},{"c":17,"x":0.9,"y":0.0445},{"c":17,"x":0.8,"y":0.0763},{"c":17,"x":0.7,"y":0.1026},{"c":17,"x":0.6,"y":0.1224},{"c":17,"x":0.5,"y":0.1423},{"c":17,"x":0.4,"y":0.155},{"c":17,"x":0.33,"y":0.159},{"c":17,"x":0.25,"y":0.1574},{"c":17,"x":0.2,"y":0.1534},{"c":17,"x":0.15,"y":0.1463},{"c":17,"x":0.1,"y":0.132},{"c":17,"x":0.06,"y":0.1145},{"c":17,"x":0.03,"y":0.0938},{"c":17,"x":0.01,"y":0.0668},{"c":17,"x":0.002,"y":0.0398},{"c":17,"x":0,"y":0},
{"c":17,"x":0.002,"y":-0.0146},{"c":17,"x":0.01,"y":-0.0312},{"c":17,"x":0.03,"y":-0.0494},{"c":17,"x":0.06,"y":-0.064},{"c":17,"x":0.1,"y":-0.0811},{"c":17,"x":0.15,"y":-0.0936},{"c":17,"x":0.2,"y":-0.0998},{"c":17,"x":0.25,"y":-0.103},{"c":17,"x":0.3,"y":-0.104},{"c":17,"x":0.35,"y":-0.1035},{"c":17,"x":0.4,"y":-0.1019},{"c":17,"x":0.45,"y":-0.0988},{"c":17,"x":0.5,"y":-0.0949},{"c":17,"x":0.6,"y":-0.0833},{"c":17,"x":0.7,"y":-0.0613},{"c":17,"x":0.8,"y":-0.0398},{"c":17,"x":0.85,"y":-0.0295},{"c":17,"x":0.9,"y":-0.0195},{"c":17,"x":0.95,"y":-0.0093},{"c":17,"x":1,"y":-0.001},
{"c":18,"x":1,"y":0.004},{"c":18,"x":0.95,"y":0.0264},{"c":18,"x":0.9,"y":0.0434},{"c":18,"x":0.8,"y":0.0744},{"c":18,"x":0.7,"y":0.1},{"c":18,"x":0.6,"y":0.1194},{"c":18,"x":0.5,"y":0.1387},{"c":18,"x":0.4,"y":0.1511},{"c":18,"x":0.33,"y":0.155},{"c":18,"x":0.25,"y":0.1535},{"c":18,"x":0.2,"y":0.1496},{"c":18,"x":0.15,"y":0.1426},{"c":18,"x":0.1,"y":0.1287},{"c":18,"x":0.06,"y":0.1116},{"c":18,"x":0.03,"y":0.0915},{"c":18,"x":0.01,"y":0.0651},{"c":18,"x":0.002,"y":0.0388},{"c":18,"x":0,"y":0},
{"c":18,"x":0.002,"y":-0.0151},{"c":18,"x":0.01,"y":-0.0324},{"c":18,"x":0.03,"y":-0.0513},{"c":18,"x":0.06,"y":-0.0664},{"c":18,"x":0.1,"y":-0.0842},{"c":18,"x":0.15,"y":-0.0972},{"c":18,"x":0.2,"y":-0.1037},{"c":18,"x":0.25,"y":-0.1069},{"c":18,"x":0.3,"y":-0.108},{"c":18,"x":0.35,"y":-0.1075},{"c":18,"x":0.4,"y":-0.1058},{"c":18,"x":0.45,"y":-0.1026},{"c":18,"x":0.5,"y":-0.0978},{"c":18,"x":0.6,"y":-0.0846},{"c":18,"x":0.7,"y":-0.0621},{"c":18,"x":0.8,"y":-0.0406},{"c":18,"x":0.85,"y":-0.03},{"c":18,"x":0.9,"y":-0.02},{"c":18,"x":0.95,"y":-0.0096},{"c":18,"x":1,"y":-0.001},
{"c":19,"x":1,"y":0.004},{"c":19,"x":0.95,"y":0.0194},{"c":19,"x":0.9,"y":0.0319},{"c":19,"x":0.8,"y":0.0547},{"c":19,"x":0.7,"y":0.0735},{"c":19,"x":0.6,"y":0.0878},{"c":19,"x":0.5,"y":0.102},{"c":19,"x":0.4,"y":0.1112},{"c":19,"x":0.33,"y":0.114},{"c":19,"x":0.25,"y":0.1129},{"c":19,"x":0.2,"y":0.11},{"c":19,"x":0.15,"y":0.1049},{"c":19,"x":0.1,"y":0.0946},{"c":19,"x":0.06,"y":0.0821},{"c":19,"x":0.03,"y":0.0673},{"c":19,"x":0.01,"y":0.0479},{"c":19,"x":0.002,"y":0.0285},{"c":19,"x":0,"y":0},
{"c":19,"x":0.002,"y":-0.0144},{"c":19,"x":0.01,"y":-0.0308},{"c":19,"x":0.03,"y":-0.0487},{"c":19,"x":0.06,"y":-0.063},{"c":19,"x":0.1,"y":-0.08},{"c":19,"x":0.15,"y":-0.0923},{"c":19,"x":0.2,"y":-0.0984},{"c":19,"x":0.25,"y":-0.1015},{"c":19,"x":0.3,"y":-0.1025},{"c":19,"x":0.35,"y":-0.102},{"c":19,"x":0.4,"y":-0.1005},{"c":19,"x":0.45,"y":-0.0974},{"c":19,"x":0.5,"y":-0.0937},{"c":19,"x":0.6,"y":-0.0829},{"c":19,"x":0.7,"y":-0.061},{"c":19,"x":0.8,"y":-0.0395},{"c":19,"x":0.85,"y":-0.0293},{"c":19,"x":0.9,"y":-0.0193},{"c":19,"x":0.95,"y":-0.0092},{"c":19,"x":1,"y":-0.001}
],
"b":[
{"c":0,"x":1,"y":0.004},{"c":0,"x":0.95,"y":0.0337},{"c":0,"x":0.9,"y":0.0596},{"c":0,"x":0.8,"y":0.0973},{"c":0,"x":0.7,"y":0.133},{"c":0,"x":0.6,"y":0.1608},{"c":0,"x":0.5,"y":0.1816},{"c":0,"x":0.4,"y":0.1955},{"c":0,"x":0.33,"y":0.1985},{"c":0,"x":0.25,"y":0.1935},{"c":0,"x":0.2,"y":0.1856},{"c":0,"x":0.15,"y":0.1727},{"c":0,"x":0.1,"y":0.1489},{"c":0,"x":0.06,"y":0.1231},{"c":0,"x":0.03,"y":0.0873},{"c":0,"x":0.01,"y":0.0496},{"c":0,"x":0.002,"y":0.0238},{"c":0,"x":0,"y":0},
{"c":0,"x":0.002,"y":-0.0197},{"c":0,"x":0.01,"y":-0.0375},{"c":0,"x":0.03,"y":-0.0554},{"c":0,"x":0.06,"y":-0.076},{"c":0,"x":0.1,"y":-0.093},{"c":0,"x":0.15,"y":-0.1108},{"c":0,"x":0.2,"y":-0.1215},{"c":0,"x":0.25,"y":-0.1305},{"c":0,"x":0.3,"y":-0.135},{"c":0,"x":0.35,"y":-0.135},{"c":0,"x":0.4,"y":-0.1323},{"c":0,"x":0.45,"y":-0.1284},{"c":0,"x":0.5,"y":-0.1199},{"c":0,"x":0.6,"y":-0.1015},{"c":0,"x":0.7,"y":-0.0778},{"c":0,"x":0.8,"y":-0.0521},{"c":0,"x":0.85,"y":-0.0389},{"c":0,"x":0.9,"y":-0.0261},{"c":0,"x":0.95,"y":-0.0128},{"c":0,"x":1,"y":-0.002},
{"c":1,"x":1,"y":0.004},{"c":1,"x":0.95,"y":0.0448},{"c":1,"x":0.9,"y":0.0767},{"c":1,"x":0.8,"y":0.1314},{"c":1,"x":0.7,"y":0.1723},{"c":1,"x":0.6,"y":0.1981},{"c":1,"x":0.5,"y":0.2146},{"c":1,"x":0.4,"y":0.227},{"c":1,"x":0.33,"y":0.23},{"c":1,"x":0.25,"y":0.2235},{"c":1,"x":0.2,"y":0.2121},{"c":1,"x":0.15,"y":0.1971},{"c":1,"x":0.1,"y":0.1772},{"c":1,"x":0.06,"y":0.1533},{"c":1,"x":0.03,"y":0.1294},{"c":1,"x":0.01,"y":0.0996},{"c":1,"x":0.002,"y":0.0597},{"c":1,"x":0,"y":0},
{"c":1,"x":0.002,"y":-0.0219},{"c":1,"x":0.01,"y":-0.0417},{"c":1,"x":0.03,"y":-0.0615},{"c":1,"x":0.06,"y":-0.0845},{"c":1,"x":0.1,"y":-0.1034},{"c":1,"x":0.15,"y":-0.1232},{"c":1,"x":0.2,"y":-0.135},{"c":1,"x":0.25,"y":-0.145},{"c":1,"x":0.3,"y":-0.15},{"c":1,"x":0.35,"y":-0.15},{"c":1,"x":0.4,"y":-0.147},{"c":1,"x":0.45,"y":-0.1413},{"c":1,"x":0.5,"y":-0.1323},{"c":1,"x":0.6,"y":-0.105},{"c":1,"x":0.7,"y":-0.079},{"c":1,"x":0.8,"y":-0.052},{"c":1,"x":0.85,"y":-0.039},{"c":1,"x":0.9,"y":-0.0275},{"c":1,"x":0.95,"y":-0.0135},{"c":1,"x":1,"y":-0.002},
{"c":2,"x":1,"y":0.004},{"c":2,"x":0.95,"y":0.0321},{"c":2,"x":0.9,"y":0.0567},{"c":2,"x":0.8,"y":0.0926},{"c":2,"x":0.7,"y":0.1266},{"c":2,"x":0.6,"y":0.1531},{"c":2,"x":0.5,"y":0.1729},{"c":2,"x":0.4,"y":0.1862},{"c":2,"x":0.33,"y":0.189},{"c":2,"x":0.25,"y":0.1843},{"c":2,"x":0.2,"y":0.1767},{"c":2,"x":0.15,"y":0.1644},{"c":2,"x":0.1,"y":0.1418},{"c":2,"x":0.06,"y":0.1172},{"c":2,"x":0.03,"y":0.0832},{"c":2,"x":0.01,"y":0.0473},{"c":2,"x":0.002,"y":0.0227},{"c":2,"x":0,"y":0},
{"c":2,"x":0.002,"y":-0.0183},{"c":2,"x":0.01,"y":-0.0348},{"c":2,"x":0.03,"y":-0.0513},{"c":2,"x":0.06,"y":-0.0704},{"c":2,"x":0.1,"y":-0.0861},{"c":2,"x":0.15,"y":-0.1026},{"c":2,"x":0.2,"y":-0.1125},{"c":2,"x":0.25,"y":-0.1209},{"c":2,"x":0.3,"y":-0.125},{"c":2,"x":0.35,"y":-0.125},{"c":2,"x":0.4,"y":-0.1225},{"c":2,"x":0.45,"y":-0.1198},{"c":2,"x":0.5,"y":-0.1117},{"c":2,"x":0.6,"y":-0.0953},{"c":2,"x":0.7,"y":-0.073},{"c":2,"x":0.8,"y":-0.0487},{"c":2,"x":0.85,"y":-0.03},{"c":2,"x":0.87,"y":-0.023},{"c":2,"x":0.9,"y":-0.013},{"c":2,"x":0.93,"y":-0.004},{"c":2,"x":0.96,"y":-0.002},{"c":2,"x":1,"y":-0.001},
{"c":3,"x":1,"y":0.004},{"c":3,"x":0.95,"y":0.035},{"c":3,"x":0.9,"y":0.063},{"c":3,"x":0.8,"y":0.109},{"c":3,"x":0.7,"y":0.155},{"c":3,"x":0.6,"y":0.186},{"c":3,"x":0.5,"y":0.209},{"c":3,"x":0.4,"y":0.2245},{"c":3,"x":0.33,"y":0.228},{"c":3,"x":0.25,"y":0.2216},{"c":3,"x":0.2,"y":0.2102},{"c":3,"x":0.15,"y":0.1954},{"c":3,"x":0.1,"y":0.1757},{"c":3,"x":0.06,"y":0.152},{"c":3,"x":0.03,"y":0.1283},{"c":3,"x":0.01,"y":0.0987},{"c":3,"x":0.002,"y":0.0592},{"c":3,"x":0,"y":0},
{"c":3,"x":0.002,"y":-0.0204},{"c":3,"x":0.01,"y":-0.0389},{"c":3,"x":0.03,"y":-0.0574},{"c":3,"x":0.06,"y":-0.0788},{"c":3,"x":0.1,"y":-0.0965},{"c":3,"x":0.15,"y":-0.1149},{"c":3,"x":0.2,"y":-0.126},{"c":3,"x":0.25,"y":-0.1354},{"c":3,"x":0.3,"y":-0.14},{"c":3,"x":0.35,"y":-0.14},{"c":3,"x":0.4,"y":-0.1372},{"c":3,"x":0.45,"y":-0.134},{"c":3,"x":0.5,"y":-0.127},{"c":3,"x":0.6,"y":-0.104},{"c":3,"x":0.7,"y":-0.08},{"c":3,"x":0.8,"y":-0.054},{"c":3,"x":0.85,"y":-0.041},{"c":3,"x":0.9,"y":-0.028},{"c":3,"x":0.95,"y":-0.014},{"c":3,"x":1,"y":-0.002},
{"c":4,"x":1,"y":0.004},{"c":4,"x":0.95,"y":0.0371},{"c":4,"x":0.9,"y":0.0654},{"c":4,"x":0.8,"y":0.1068},{"c":4,"x":0.7,"y":0.1461},{"c":4,"x":0.6,"y":0.1766},{"c":4,"x":0.5,"y":0.1995},{"c":4,"x":0.4,"y":0.2147},{"c":4,"x":0.33,"y":0.218},{"c":4,"x":0.25,"y":0.2126},{"c":4,"x":0.2,"y":0.2038},{"c":4,"x":0.15,"y":0.1897},{"c":4,"x":0.1,"y":0.1635},{"c":4,"x":0.06,"y":0.1352},{"c":4,"x":0.03,"y":0.0959},{"c":4,"x":0.01,"y":0.0545},{"c":4,"x":0.002,"y":0.0262},{"c":4,"x":0,"y":0},
{"c":4,"x":0.002,"y":-0.022},{"c":4,"x":0.01,"y":-0.042},{"c":4,"x":0.03,"y":-0.062},{"c":4,"x":0.06,"y":-0.085},{"c":4,"x":0.1,"y":-0.104},{"c":4,"x":0.15,"y":-0.124},{"c":4,"x":0.2,"y":-0.136},{"c":4,"x":0.25,"y":-0.145},{"c":4,"x":0.3,"y":-0.149},{"c":4,"x":0.35,"y":-0.15},{"c":4,"x":0.4,"y":-0.148},{"c":4,"x":0.45,"y":-0.1425},{"c":4,"x":0.5,"y":-0.1335},{"c":4,"x":0.6,"y":-0.106},{"c":4,"x":0.7,"y":-0.08},{"c":4,"x":0.8,"y":-0.053},{"c":4,"x":0.85,"y":-0.04},{"c":4,"x":0.9,"y":-0.0275},{"c":4,"x":0.95,"y":-0.0135},{"c":4,"x":1,"y":-0.002},
{"c":5,"x":1,"y":0.004},{"c":5,"x":0.95,"y":0.0316},{"c":5,"x":0.9,"y":0.0558},{"c":5,"x":0.8,"y":0.0911},{"c":5,"x":0.7,"y":0.1246},{"c":5,"x":0.6,"y":0.1507},{"c":5,"x":0.5,"y":0.1702},{"c":5,"x":0.4,"y":0.1832},{"c":5,"x":0.33,"y":0.186},{"c":5,"x":0.25,"y":0.1814},{"c":5,"x":0.2,"y":0.1739},{"c":5,"x":0.15,"y":0.1618},{"c":5,"x":0.1,"y":0.1395},{"c":5,"x":0.06,"y":0.1153},{"c":5,"x":0.03,"y":0.0818},{"c":5,"x":0.01,"y":0.0465},{"c":5,"x":0.002,"y":0.0223},{"c":5,"x":0,"y":0},
{"c":5,"x":0.002,"y":-0.018},{"c":5,"x":0.01,"y":-0.0342},{"c":5,"x":0.03,"y":-0.0504},{"c":5,"x":0.06,"y":-0.0692},{"c":5,"x":0.1,"y":-0.0847},{"c":5,"x":0.15,"y":-0.101},{"c":5,"x":0.2,"y":-0.1107},{"c":5,"x":0.25,"y":-0.1189},{"c":5,"x":0.3,"y":-0.123},{"c":5,"x":0.35,"y":-0.123},{"c":5,"x":0.4,"y":-0.1205},{"c":5,"x":0.45,"y":-0.118},{"c":5,"x":0.5,"y":-0.11},{"c":5,"x":0.6,"y":-0.094},{"c":5,"x":0.7,"y":-0.072},{"c":5,"x":0.8,"y":-0.048},{"c":5,"x":0.85,"y":-0.036},{"c":5,"x":0.9,"y":-0.024},{"c":5,"x":0.95,"y":-0.012},{"c":5,"x":1,"y":-0.002},
{"c":6,"x":1,"y":0.004},{"c":6,"x":0.95,"y":0.047},{"c":6,"x":0.9,"y":0.08},{"c":6,"x":0.8,"y":0.135},{"c":6,"x":0.7,"y":0.175},{"c":6,"x":0.6,"y":0.2},{"c":6,"x":0.5,"y":0.2155},{"c":6,"x":0.4,"y":0.2275},{"c":6,"x":0.33,"y":0.2305},{"c":6,"x":0.25,"y":0.224},{"c":6,"x":0.2,"y":0.2125},{"c":6,"x":0.15,"y":0.1976},{"c":6,"x":0.1,"y":0.1776},{"c":6,"x":0.06,"y":0.1537},{"c":6,"x":0.03,"y":0.1297},{"c":6,"x":0.01,"y":0.0998},{"c":6,"x":0.002,"y":0.0599},{"c":6,"x":0,"y":0},
{"c":6,"x":0.002,"y":-0.0216},{"c":6,"x":0.01,"y":-0.0411},{"c":6,"x":0.03,"y":-0.0607},{"c":6,"x":0.06,"y":-0.0833},{"c":6,"x":0.1,"y":-0.102},{"c":6,"x":0.15,"y":-0.1215},{"c":6,"x":0.2,"y":-0.1332},{"c":6,"x":0.25,"y":-0.1431},{"c":6,"x":0.3,"y":-0.148},{"c":6,"x":0.34,"y":-0.146},{"c":6,"x":0.375,"y":-0.138},{"c":6,"x":0.44,"y":-0.1155},{"c":6,"x":0.5,"y":-0.094},{"c":6,"x":0.54,"y":-0.081},{"c":6,"x":0.6,"y":-0.066},{"c":6,"x":0.66,"y":-0.053},{"c":6,"x":0.73,"y":-0.037},{"c":6,"x":0.81,"y":-0.017},{"c":6,"x":0.85,"y":-0.009},{"c":6,"x":0.89,"y":-0.003},{"c":6,"x":0.95,"y":-0.001},{"c":6,"x":1,"y":0},
{"c":7,"x":1,"y":0.004},{"c":7,"x":0.95,"y":0.0311},{"c":7,"x":0.9,"y":0.0549},{"c":7,"x":0.8,"y":0.0897},{"c":7,"x":0.7,"y":0.1226},{"c":7,"x":0.6,"y":0.1482},{"c":7,"x":0.5,"y":0.1674},{"c":7,"x":0.4,"y":0.1803},{"c":7,"x":0.33,"y":0.183},{"c":7,"x":0.25,"y":0.1784},{"c":7,"x":0.2,"y":0.1711},{"c":7,"x":0.15,"y":0.1592},{"c":7,"x":0.1,"y":0.1373},{"c":7,"x":0.06,"y":0.1135},{"c":7,"x":0.03,"y":0.0805},{"c":7,"x":0.01,"y":0.0458},{"c":7,"x":0.002,"y":0.022},{"c":7,"x":0,"y":0},
{"c":7,"x":0.002,"y":-0.0194},{"c":7,"x":0.01,"y":-0.037},{"c":7,"x":0.03,"y":-0.0545},{"c":7,"x":0.06,"y":-0.0749},{"c":7,"x":0.1,"y":-0.0916},{"c":7,"x":0.15,"y":-0.1092},{"c":7,"x":0.2,"y":-0.1197},{"c":7,"x":0.25,"y":-0.1286},{"c":7,"x":0.3,"y":-0.133},{"c":7,"x":0.35,"y":-0.133},{"c":7,"x":0.4,"y":-0.1303},{"c":7,"x":0.45,"y":-0.1266},{"c":7,"x":0.5,"y":-0.1183},{"c":7,"x":0.6,"y":-0.1002},{"c":7,"x":0.7,"y":-0.0768},{"c":7,"x":0.8,"y":-0.0515},{"c":7,"x":0.85,"y":-0.0384},{"c":7,"x":0.9,"y":-0.0257},{"c":7,"x":0.95,"y":-0.0127},{"c":7,"x":1,"y":-0.002},
{"c":8,"x":1,"y":0.004},{"c":8,"x":0.95,"y":0.014},{"c":8,"x":0.9,"y":0.029},{"c":8,"x":0.8,"y":0.051},{"c":8,"x":0.7,"y":0.0675},{"c":8,"x":0.6,"y":0.079},{"c":8,"x":0.5,"y":0.0875},{"c":8,"x":0.4,"y":0.0915},{"c":8,"x":0.33,"y":0.0912},{"c":8,"x":0.25,"y":0.089},{"c":8,"x":0.2,"y":0.0855},{"c":8,"x":0.15,"y":0.079},{"c":8,"x":0.1,"y":0.067},{"c":8,"x":0.06,"y":0.052},{"c":8,"x":0.03,"y":0.036},{"c":8,"x":0.01,"y":0.019},{"c":8,"x":0.002,"y":0.008},{"c":8,"x":0,"y":0},
{"c":8,"x":0.002,"y":-0.008},{"c":8,"x":0.008,"y":-0.0197},{"c":8,"x":0.03,"y":-0.028},{"c":8,"x":0.05,"y":-0.033},{"c":8,"x":0.09,"y":-0.0403},{"c":8,"x":0.13,"y":-0.046},{"c":8,"x":0.17,"y":-0.049},{"c":8,"x":0.21,"y":-0.0516},{"c":8,"x":0.26,"y":-0.057},{"c":8,"x":0.31,"y":-0.06},{"c":8,"x":0.36,"y":-0.0595},{"c":8,"x":0.415,"y":-0.0563},{"c":8,"x":0.47,"y":-0.051},{"c":8,"x":0.537,"y":-0.0423},{"c":8,"x":0.619,"y":-0.0328},{"c":8,"x":0.7,"y":-0.0282},{"c":8,"x":0.782,"y":-0.0216},{"c":8,"x":0.863,"y":-0.015},{"c":8,"x":0.917,"y":-0.0097},{"c":8,"x":0.96,"y":-0.004},{"c":8,"x":1,"y":-0.002},
{"c":9,"x":1,"y":0.004},{"c":9,"x":0.95,"y":0.045},{"c":9,"x":0.9,"y":0.077},{"c":9,"x":0.8,"y":0.132},{"c":9,"x":0.7,"y":0.173},{"c":9,"x":0.6,"y":0.199},{"c":9,"x":0.5,"y":0.2155},{"c":9,"x":0.4,"y":0.228},{"c":9,"x":0.33,"y":0.231},{"c":9,"x":0.25,"y":0.2245},{"c":9,"x":0.2,"y":0.213},{"c":9,"x":0.15,"y":0.198},{"c":9,"x":0.1,"y":0.178},{"c":9,"x":0.06,"y":0.154},{"c":9,"x":0.03,"y":0.13},{"c":9,"x":0.01,"y":0.1},{"c":9,"x":0.002,"y":0.06},{"c":9,"x":0,"y":0},
{"c":9,"x":0.002,"y":-0.01},{"c":9,"x":0.01,"y":-0.026},{"c":9,"x":0.03,"y":-0.038},{"c":9,"x":0.05,"y":-0.047},{"c":9,"x":0.09,"y":-0.065},{"c":9,"x":0.13,"y":-0.0835},{"c":9,"x":0.17,"y":-0.107},{"c":9,"x":0.21,"y":-0.131},{"c":9,"x":0.23,"y":-0.136},{"c":9,"x":0.3,"y":-0.138},{"c":9,"x":0.35,"y":-0.138},{"c":9,"x":0.4,"y":-0.136},{"c":9,"x":0.45,"y":-0.131},{"c":9,"x":0.5,"y":-0.121},{"c":9,"x":0.6,"y":-0.1},{"c":9,"x":0.7,"y":-0.076},{"c":9,"x":0.8,"y":-0.051},{"c":9,"x":0.85,"y":-0.038},{"c":9,"x":0.9,"y":-0.026},{"c":9,"x":0.95,"y":-0.013},{"c":9,"x":1,"y":-0.002},
{"c":10,"x":1,"y":0.004},{"c":10,"x":0.95,"y":0.0269},{"c":10,"x":0.9,"y":0.0474},{"c":10,"x":0.8,"y":0.0774},{"c":10,"x":0.7,"y":0.1059},{"c":10,"x":0.6,"y":0.128},{"c":10,"x":0.5,"y":0.1446},{"c":10,"x":0.4,"y":0.1556},{"c":10,"x":0.33,"y":0.158},{"c":10,"x":0.25,"y":0.1541},{"c":10,"x":0.2,"y":0.1477},{"c":10,"x":0.15,"y":0.1375},{"c":10,"x":0.1,"y":0.1185},{"c":10,"x":0.06,"y":0.098},{"c":10,"x":0.03,"y":0.0695},{"c":10,"x":0.01,"y":0.0395},{"c":10,"x":0.002,"y":0.019},{"c":10,"x":0,"y":0},
{"c":10,"x":0.002,"y":-0.0193},{"c":10,"x":0.01,"y":-0.0367},{"c":10,"x":0.03,"y":-0.0541},{"c":10,"x":0.06,"y":-0.0743},{"c":10,"x":0.1,"y":-0.0909},{"c":10,"x":0.15,"y":-0.1084},{"c":10,"x":0.2,"y":-0.1188},{"c":10,"x":0.25,"y":-0.1276},{"c":10,"x":0.3,"y":-0.132},{"c":10,"x":0.35,"y":-0.132},{"c":10,"x":0.4,"y":-0.1294},{"c":10,"x":0.45,"y":-0.1258},{"c":10,"x":0.5,"y":-0.1174},{"c":10,"x":0.6,"y":-0.0996},{"c":10,"x":0.7,"y":-0.0763},{"c":10,"x":0.8,"y":-0.0511},{"c":10,"x":0.85,"y":-0.0382},{"c":10,"x":0.9,"y":-0.0256},{"c":10,"x":0.95,"y":-0.0126},{"c":10,"x":1,"y":-0.002},
{"c":11,"x":1,"y":0.004},{"c":11,"x":0.95,"y":0.014},{"c":11,"x":0.9,"y":0.0292},{"c":11,"x":0.8,"y":0.0512},{"c":11,"x":0.7,"y":0.0678},{"c":11,"x":0.6,"y":0.0793},{"c":11,"x":0.5,"y":0.0878},{"c":11,"x":0.4,"y":0.0918},{"c":11,"x":0.33,"y":0.0915},{"c":11,"x":0.25,"y":0.0893},{"c":11,"x":0.2,"y":0.0858},{"c":11,"x":0.15,"y":0.0793},{"c":11,"x":0.1,"y":0.0672},{"c":11,"x":0.06,"y":0.0522},{"c":11,"x":0.03,"y":0.0361},{"c":11,"x":0.01,"y":0.0191},{"c":11,"x":0.002,"y":0.0081},{"c":11,"x":0,"y":0},
{"c":11,"x":0.002,"y":-0.012},{"c":11,"x":0.01,"y":-0.024},{"c":11,"x":0.03,"y":-0.036},{"c":11,"x":0.049,"y":-0.046},{"c":11,"x":0.08,"y":-0.054},{"c":11,"x":0.114,"y":-0.059},{"c":11,"x":0.15,"y":-0.066},{"c":11,"x":0.195,"y":-0.0695},{"c":11,"x":0.25,"y":-0.071},{"c":11,"x":0.309,"y":-0.0722},{"c":11,"x":0.375,"y":-0.0704},{"c":11,"x":0.456,"y":-0.0629},{"c":11,"x":0.537,"y":-0.0554},{"c":11,"x":0.619,"y":-0.046},{"c":11,"x":0.7,"y":-0.0385},{"c":11,"x":0.782,"y":-0.03},{"c":11,"x":0.831,"y":-0.0273},{"c":11,"x":0.863,"y":-0.0216},{"c":11,"x":0.945,"y":-0.0083},{"c":11,"x":1,"y":-0.002},
{"c":12,"x":1,"y":0.004},{"c":12,"x":0.95,"y":0.032},{"c":12,"x":0.9,"y":0.0564},{"c":12,"x":0.8,"y":0.0921},{"c":12,"x":0.7,"y":0.126},{"c":12,"x":0.6,"y":0.1523},{"c":12,"x":0.5,"y":0.172},{"c":12,"x":0.4,"y":0.1852},{"c":12,"x":0.33,"y":0.188},{"c":12,"x":0.25,"y":0.1833},{"c":12,"x":0.2,"y":0.1758},{"c":12,"x":0.15,"y":0.1636},{"c":12,"x":0.1,"y":0.141},{"c":12,"x":0.06,"y":0.1166},{"c":12,"x":0.03,"y":0.0827},{"c":12,"x":0.01,"y":0.047},{"c":12,"x":0.002,"y":0.0226},{"c":12,"x":0,"y":0},
{"c":12,"x":0.002,"y":-0.0185},{"c":12,"x":0.01,"y":-0.0353},{"c":12,"x":0.03,"y":-0.0521},{"c":12,"x":0.06,"y":-0.0715},{"c":12,"x":0.1,"y":-0.0875},{"c":12,"x":0.15,"y":-0.1043},{"c":12,"x":0.2,"y":-0.1143},{"c":12,"x":0.25,"y":-0.1228},{"c":12,"x":0.3,"y":-0.127},{"c":12,"x":0.35,"y":-0.127},{"c":12,"x":0.4,"y":-0.1245},{"c":12,"x":0.45,"y":-0.1215},{"c":12,"x":0.5,"y":-0.1133},{"c":12,"x":0.6,"y":-0.0965},{"c":12,"x":0.7,"y":-0.0739},{"c":12,"x":0.8,"y":-0.0494},{"c":12,"x":0.85,"y":-0.037},{"c":12,"x":0.9,"y":-0.0247},{"c":12,"x":0.95,"y":-0.0123},{"c":12,"x":1,"y":-0.002},
{"c":13,"x":1,"y":0.004},{"c":13,"x":0.95,"y":0.025},{"c":13,"x":0.9,"y":0.0441},{"c":13,"x":0.8,"y":0.072},{"c":13,"x":0.7,"y":0.0985},{"c":13,"x":0.6,"y":0.1191},{"c":13,"x":0.5,"y":0.1345},{"c":13,"x":0.4,"y":0.1448},{"c":13,"x":0.33,"y":0.147},{"c":13,"x":0.25,"y":0.1433},{"c":13,"x":0.2,"y":0.1374},{"c":13,"x":0.15,"y":0.1279},{"c":13,"x":0.1,"y":0.1103},{"c":13,"x":0.06,"y":0.0911},{"c":13,"x":0.03,"y":0.0647},{"c":13,"x":0.01,"y":0.0368},{"c":13,"x":0.002,"y":0.0176},{"c":13,"x":0,"y":0},
{"c":13,"x":0.002,"y":-0.0188},{"c":13,"x":0.01,"y":-0.0359},{"c":13,"x":0.03,"y":-0.0529},{"c":13,"x":0.06,"y":-0.0726},{"c":13,"x":0.1,"y":-0.0889},{"c":13,"x":0.15,"y":-0.1059},{"c":13,"x":0.2,"y":-0.1161},{"c":13,"x":0.25,"y":-0.1247},{"c":13,"x":0.3,"y":-0.129},{"c":13,"x":0.35,"y":-0.129},{"c":13,"x":0.4,"y":-0.1264},{"c":13,"x":0.45,"y":-0.1232},{"c":13,"x":0.5,"y":-0.115},{"c":13,"x":0.6,"y":-0.0977},{"c":13,"x":0.7,"y":-0.0749},{"c":13,"x":0.8,"y":-0.0501},{"c":13,"x":0.85,"y":-0.0374},{"c":13,"x":0.9,"y":-0.025},{"c":13,"x":0.95,"y":-0.0124},{"c":13,"x":1,"y":-0.002},
{"c":14,"x":1,"y":0.004},{"c":14,"x":0.95,"y":0.037},{"c":14,"x":0.9,"y":0.068},{"c":14,"x":0.86,"y":0.092},{"c":14,"x":0.83,"y":0.1125},{"c":14,"x":0.8,"y":0.114},{"c":14,"x":0.76,"y":0.123},{"c":14,"x":0.7,"y":0.143},{"c":14,"x":0.6,"y":0.1628},{"c":14,"x":0.5,"y":0.1839},{"c":14,"x":0.4,"y":0.198},{"c":14,"x":0.33,"y":0.201},{"c":14,"x":0.25,"y":0.196},{"c":14,"x":0.2,"y":0.1879},{"c":14,"x":0.15,"y":0.1749},{"c":14,"x":0.1,"y":0.1508},{"c":14,"x":0.06,"y":0.1246},{"c":14,"x":0.03,"y":0.0884},{"c":14,"x":0.01,"y":0.0503},{"c":14,"x":0.002,"y":0.0241},{"c":14,"x":0,"y":0},
{"c":14,"x":0.002,"y":-0.0212},{"c":14,"x":0.01,"y":-0.0403},{"c":14,"x":0.03,"y":-0.0595},{"c":14,"x":0.06,"y":-0.0816},{"c":14,"x":0.1,"y":-0.0999},{"c":14,"x":0.15,"y":-0.119},{"c":14,"x":0.2,"y":-0.1305},{"c":14,"x":0.25,"y":-0.1402},{"c":14,"x":0.3,"y":-0.145},{"c":14,"x":0.35,"y":-0.145},{"c":14,"x":0.4,"y":-0.1421},{"c":14,"x":0.45,"y":-0.137},{"c":14,"x":0.5,"y":-0.128},{"c":14,"x":0.6,"y":-0.104},{"c":14,"x":0.7,"y":-0.079},{"c":14,"x":0.76,"y":-0.062},{"c":14,"x":0.8,"y":-0.04},{"c":14,"x":0.83,"y":-0.03},{"c":14,"x":0.87,"y":-0.011},{"c":14,"x":0.9,"y":-0.004},{"c":14,"x":0.95,"y":-0.001},{"c":14,"x":1,"y":0},
{"c":15,"x":1,"y":0.004},{"c":15,"x":0.95,"y":0.0142},{"c":15,"x":0.9,"y":0.0292},{"c":15,"x":0.8,"y":0.0512},{"c":15,"x":0.7,"y":0.0678},{"c":15,"x":0.6,"y":0.0795},{"c":15,"x":0.5,"y":0.0885},{"c":15,"x":0.4,"y":0.095},{"c":15,"x":0.33,"y":0.0965},{"c":15,"x":0.25,"y":0.0955},{"c":15,"x":0.2,"y":0.093},{"c":15,"x":0.15,"y":0.089},{"c":15,"x":0.1,"y":0.082},{"c":15,"x":0.06,"y":0.0675},{"c":15,"x":0.03,"y":0.043},{"c":15,"x":0.01,"y":0.021},{"c":15,"x":0.002,"y":0.0095},{"c":15,"x":0,"y":0},
{"c":15,"x":0.002,"y":-0.012},{"c":15,"x":0.01,"y":-0.025},{"c":15,"x":0.03,"y":-0.045},{"c":15,"x":0.06,"y":-0.068},{"c":15,"x":0.1,"y":-0.078},{"c":15,"x":0.15,"y":-0.085},{"c":15,"x":0.2,"y":-0.092},{"c":15,"x":0.25,"y":-0.095},{"c":15,"x":0.3,"y":-0.096},{"c":15,"x":0.35,"y":-0.0955},{"c":15,"x":0.4,"y":-0.094},{"c":15,"x":0.45,"y":-0.089},{"c":15,"x":0.5,"y":-0.083},{"c":15,"x":0.55,"y":-0.076},{"c":15,"x":0.6,"y":-0.068},{"c":15,"x":0.7,"y":-0.0555},{"c":15,"x":0.78,"y":-0.048},{"c":15,"x":0.85,"y":-0.034},{"c":15,"x":0.9,"y":-0.024},{"c":15,"x":0.95,"y":-0.012},{"c":15,"x":1,"y":-0.002},
{"c":16,"x":1,"y":0.004},{"c":16,"x":0.95,"y":0.0145},{"c":16,"x":0.9,"y":0.0295},{"c":16,"x":0.8,"y":0.0515},{"c":16,"x":0.7,"y":0.068},{"c":16,"x":0.6,"y":0.08},{"c":16,"x":0.5,"y":0.0895},{"c":16,"x":0.4,"y":0.0975},{"c":16,"x":0.33,"y":0.1005},{"c":16,"x":0.25,"y":0.0995},{"c":16,"x":0.2,"y":0.097},{"c":16,"x":0.15,"y":0.093},{"c":16,"x":0.1,"y":0.0855},{"c":16,"x":0.06,"y":0.07},{"c":16,"x":0.03,"y":0.045},{"c":16,"x":0.01,"y":0.022},{"c":16,"x":0.002,"y":0.01},{"c":16,"x":0,"y":0},
{"c":16,"x":0.002,"y":-0.012},{"c":16,"x":0.01,"y":-0.026},{"c":16,"x":0.03,"y":-0.047},{"c":16,"x":0.06,"y":-0.069},{"c":16,"x":0.1,"y":-0.081},{"c":16,"x":0.15,"y":-0.089},{"c":16,"x":0.2,"y":-0.095},{"c":16,"x":0.25,"y":-0.098},{"c":16,"x":0.3,"y":-0.099},{"c":16,"x":0.35,"y":-0.0985},{"c":16,"x":0.4,"y":-0.097},{"c":16,"x":0.45,"y":-0.092},{"c":16,"x":0.5,"y":-0.086},{"c":16,"x":0.55,"y":-0.08},{"c":16,"x":0.6,"y":-0.072},{"c":16,"x":0.7,"y":-0.06},{"c":16,"x":0.78,"y":-0.05},{"c":16,"x":0.85,"y":-0.036},{"c":16,"x":0.9,"y":-0.025},{"c":16,"x":0.95,"y":-0.012},{"c":16,"x":1,"y":-0.002},
{"c":17,"x":1,"y":0.004},{"c":17,"x":0.95,"y":0.0262},{"c":17,"x":0.9,"y":0.0462},{"c":17,"x":0.8,"y":0.0755},{"c":17,"x":0.7,"y":0.1032},{"c":17,"x":0.6,"y":0.1247},{"c":17,"x":0.5,"y":0.1409},{"c":17,"x":0.4,"y":0.1517},{"c":17,"x":0.33,"y":0.154},{"c":17,"x":0.25,"y":0.1502},{"c":17,"x":0.2,"y":0.144},{"c":17,"x":0.15,"y":0.134},{"c":17,"x":0.1,"y":0.1155},{"c":17,"x":0.06,"y":0.0955},{"c":17,"x":0.03,"y":0.0678},{"c":17,"x":0.01,"y":0.0385},{"c":17,"x":0.002,"y":0.0185},{"c":17,"x":0,"y":0},
{"c":17,"x":0.002,"y":-0.0187},{"c":17,"x":0.01,"y":-0.0356},{"c":17,"x":0.03,"y":-0.0525},{"c":17,"x":0.06,"y":-0.0721},{"c":17,"x":0.1,"y":-0.0882},{"c":17,"x":0.15,"y":-0.1051},{"c":17,"x":0.2,"y":-0.1152},{"c":17,"x":0.25,"y":-0.1238},{"c":17,"x":0.3,"y":-0.128},{"c":17,"x":0.35,"y":-0.128},{"c":17,"x":0.4,"y":-0.1254},{"c":17,"x":0.45,"y":-0.1223},{"c":17,"x":0.5,"y":-0.1141},{"c":17,"x":0.6,"y":-0.0971},{"c":17,"x":0.7,"y":-0.0744},{"c":17,"x":0.8,"y":-0.0497},{"c":17,"x":0.85,"y":-0.0372},{"c":17,"x":0.9,"y":-0.0249},{"c":17,"x":0.95,"y":-0.0123},{"c":17,"x":1,"y":-0.002},
{"c":18,"x":1,"y":0.004},{"c":18,"x":0.95,"y":0.014},{"c":18,"x":0.9,"y":0.029},{"c":18,"x":0.8,"y":0.051},{"c":18,"x":0.7,"y":0.0673},{"c":18,"x":0.6,"y":0.0788},{"c":18,"x":0.5,"y":0.0873},{"c":18,"x":0.4,"y":0.0913},{"c":18,"x":0.33,"y":0.091},{"c":18,"x":0.25,"y":0.0888},{"c":18,"x":0.2,"y":0.0853},{"c":18,"x":0.15,"y":0.0788},{"c":18,"x":0.1,"y":0.0668},{"c":18,"x":0.06,"y":0.0518},{"c":18,"x":0.03,"y":0.0358},{"c":18,"x":0.01,"y":0.0189},{"c":18,"x":0.002,"y":0.008},{"c":18,"x":0,"y":0},
{"c":18,"x":0.002,"y":-0.022},{"c":18,"x":0.01,"y":-0.042},{"c":18,"x":0.03,"y":-0.062},{"c":18,"x":0.06,"y":-0.085},{"c":18,"x":0.1,"y":-0.104},{"c":18,"x":0.15,"y":-0.124},{"c":18,"x":0.2,"y":-0.136},{"c":18,"x":0.25,"y":-0.146},{"c":18,"x":0.3,"y":-0.151},{"c":18,"x":0.35,"y":-0.152},{"c":18,"x":0.4,"y":-0.149},{"c":18,"x":0.45,"y":-0.143},{"c":18,"x":0.5,"y":-0.134},{"c":18,"x":0.6,"y":-0.106},{"c":18,"x":0.7,"y":-0.08},{"c":18,"x":0.8,"y":-0.053},{"c":18,"x":0.85,"y":-0.04},{"c":18,"x":0.9,"y":-0.0275},{"c":18,"x":0.95,"y":-0.0135},{"c":18,"x":1,"y":-0.002},
{"c":19,"x":1,"y":0.004},{"c":19,"x":0.95,"y":0.0449},{"c":19,"x":0.9,"y":0.0768},{"c":19,"x":0.8,"y":0.1317},{"c":19,"x":0.7,"y":0.1726},{"c":19,"x":0.6,"y":0.1986},{"c":19,"x":0.5,"y":0.215},{"c":19,"x":0.4,"y":0.2275},{"c":19,"x":0.33,"y":0.2305},{"c":19,"x":0.25,"y":0.224},{"c":19,"x":0.2,"y":0.2125},{"c":19,"x":0.15,"y":0.1976},{"c":19,"x":0.1,"y":0.1776},{"c":19,"x":0.06,"y":0.1537},{"c":19,"x":0.03,"y":0.1297},{"c":19,"x":0.01,"y":0.0998},{"c":19,"x":0.002,"y":0.0599},{"c":19,"x":0,"y":0},
{"c":19,"x":0.002,"y":-0.0204},{"c":19,"x":0.01,"y":-0.0389},{"c":19,"x":0.03,"y":-0.0574},{"c":19,"x":0.06,"y":-0.0788},{"c":19,"x":0.1,"y":-0.0965},{"c":19,"x":0.15,"y":-0.1149},{"c":19,"x":0.2,"y":-0.126},{"c":19,"x":0.25,"y":-0.1354},{"c":19,"x":0.3,"y":-0.14},{"c":19,"x":0.35,"y":-0.14},{"c":19,"x":0.4,"y":-0.1372},{"c":19,"x":0.45,"y":-0.1327},{"c":19,"x":0.5,"y":-0.1241},{"c":19,"x":0.6,"y":-0.1045},{"c":19,"x":0.7,"y":-0.0802},{"c":19,"x":0.8,"y":-0.0539},{"c":19,"x":0.85,"y":-0.0401},{"c":19,"x":0.9,"y":-0.0269},{"c":19,"x":0.95,"y":-0.0132},{"c":19,"x":1,"y":-0.002}
]
},
"vconcat":[
{"title":"CL:0.5","width":1674,"height":1241,"data":{"name":"a"},"mark":{"type":"line"},
"encoding":{
"x":{"field":"x","type":"quantitative","scale":{"domain":[-0.05,1.05],"nice":false,"zero":false},"axis":{"values":[0,0.2,0.4,0.6,0.8,1],"format":".1f","title":"(a) CVAE-WGAN-gp.","titleFont":"Liberation Serif","titleFontSize":66,"titleFontWeight":"normal","titleColor":"#000000","titlePadding":118,"titleX":815,"titleAlign":"center"}},
"y":{"field":"y","type":"quantitative","scale":{"domain":[-0.1712,0.2495],"nice":false,"zero":false},"axis":{"values":[-0.15,-0.1,-0.05,0,0.05,0.1,0.15,0.2],"format":".2f","title":null}},
"color":{"field":"c","type":"nominal","scale":{"domain":[0,1,2,3,4,5,6,7,8,9,10,11,12,13,14,15,16,17,18,19],"range":["#1f77b4","#ff7f0e","#2ca02c","#d62728","#9467bd","#8c564b","#e377c2","#7f7f7f","#bcbd22","#17becf","#1f77b4","#ff7f0e","#2ca02c","#d62728","#9467bd","#8c564b","#e377c2","#7f7f7f","#bcbd22","#17becf"]},"legend":null},
"order":{"value":null}
}},
{"title":"CL:0.5","width":1692,"height":1263,"data":{"name":"b"},"mark":{"type":"line"},
"encoding":{
"x":{"field":"x","type":"quantitative","scale":{"domain":[-0.05,1.05],"nice":false,"zero":false},"axis":{"values":[0,0.2,0.4,0.6,0.8,1],"format":".1f","title":"(b) cWGAN-gp.","titleFont":"Liberation Serif","titleFontSize":66,"titleFontWeight":"normal","titleColor":"#000000","titlePadding":118,"titleX":815,"titleAlign":"center"}},
"y":{"field":"y","type":"quantitative","scale":{"domain":[-0.1713,0.2497],"nice":false,"zero":false},"axis":{"values":[-0.15,-0.1,-0.05,0,0.05,0.1,0.15,0.2],"format":".2f","title":null}},
"color":{"field":"c","type":"nominal","scale":{"domain":[0,1,2,3,4,5,6,7,8,9,10,11,12,13,14,15,16,17,18,19],"range":["#1f77b4","#ff7f0e","#2ca02c","#d62728","#9467bd","#8c564b","#e377c2","#7f7f7f","#bcbd22","#17becf","#1f77b4","#ff7f0e","#2ca02c","#d62728","#9467bd","#8c564b","#e377c2","#7f7f7f","#bcbd22","#17becf"]},"legend":null},
"order":{"value":null}
}}
]
}
